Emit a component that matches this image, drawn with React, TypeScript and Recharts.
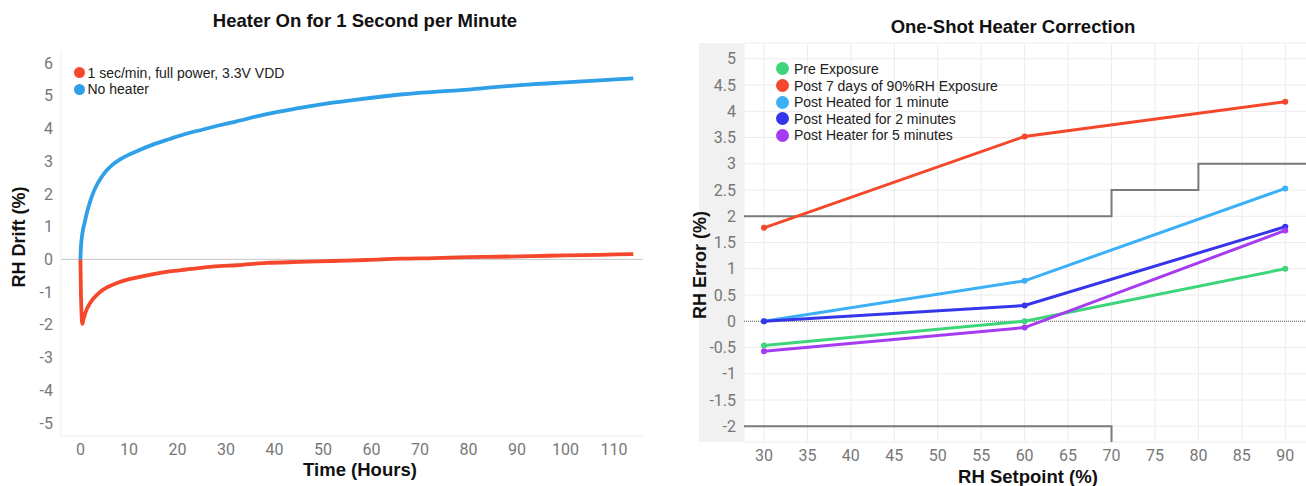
import React from 'react';
import { LineChart, Line, XAxis, YAxis, CartesianGrid, ReferenceLine } from 'recharts';

// ---------- Left chart: Heater On for 1 Second per Minute ----------
const heaterHours = [0, 0.12, 0.25, 0.4, 0.6, 0.87, 1.3, 1.9, 2.5, 3.3, 4.2, 5.3, 6.6, 8.1, 9.7, 11.5, 14.8, 18.4, 21.8, 25.3, 28.7, 32.2, 38.4, 45, 52, 59, 66, 73, 80, 86, 93, 100, 107, 114];
const heaterDrift = [0, -1.1, -1.7, -1.97, -1.85, -1.71, -1.53, -1.36, -1.23, -1.1, -0.98, -0.87, -0.78, -0.69, -0.62, -0.56, -0.46, -0.37, -0.31, -0.25, -0.21, -0.18, -0.11, -0.08, -0.05, -0.02, 0.02, 0.04, 0.07, 0.08, 0.1, 0.12, 0.14, 0.16];
const noHeaterHours = [0, 0.1, 0.3, 0.55, 0.87, 1.3, 1.9, 2.5, 3.3, 4.2, 5.3, 6.6, 8.1, 9.7, 11.5, 14.8, 18.4, 21.8, 25.3, 28.7, 32.2, 38.4, 45, 52, 59, 66, 73, 80, 86, 93, 100, 107, 114];
const noHeaterDrift = [0, 0.35, 0.68, 0.92, 1.12, 1.4, 1.72, 1.98, 2.25, 2.48, 2.7, 2.89, 3.05, 3.18, 3.3, 3.5, 3.68, 3.84, 3.97, 4.1, 4.22, 4.44, 4.62, 4.79, 4.92, 5.04, 5.12, 5.19, 5.27, 5.35, 5.41, 5.47, 5.53];
const hourTicks = [0, 10, 20, 30, 40, 50, 60, 70, 80, 90, 100, 110];
const driftTicks = [-5, -4, -3, -2, -1, 0, 1, 2, 3, 4, 5, 6];
const leftSeriesNames = ['1 sec/min, full power, 3.3V VDD', 'No heater'];
const leftColors = ['#f4472b', '#2f9fe8'];

// ---------- Right chart: One-Shot Heater Correction ----------
const setpoints = [30, 60, 90];
const preExposure = [-0.46, 0.0, 1.0];
const post7Days = [1.78, 3.52, 4.18];
const heated1Min = [0.0, 0.77, 2.53];
const heated2Min = [0.0, 0.3, 1.8];
const heated5Min = [-0.57, -0.12, 1.73];
const limitX = [27.7, 70, 80, 92.5];
const upperLimit = [2, 2.5, 3, 3];
const lowerLimit = [-2, -2.5, -3, -3];
const setpointTicks = [30, 35, 40, 45, 50, 55, 60, 65, 70, 75, 80, 85, 90];
const errorTicks = [-2, -1.5, -1, -0.5, 0, 0.5, 1, 1.5, 2, 2.5, 3, 3.5, 4, 4.5, 5];
const rightSeriesNames = ['Pre Exposure', 'Post 7 days of 90%RH Exposure', 'Post Heated for 1 minute', 'Post Heated for 2 minutes', 'Post Heater for 5 minutes'];
const rightColors = ['#3dd47a', '#f4472b', '#3bb0f6', '#3535ea', '#a53cf2'];
const rightValues = [preExposure, post7Days, heated1Min, heated2Min, heated5Min];

const zip = (xs: number[], ys: number[]) => xs.map((x, i) => ({ x, y: ys[i] }));

const tickStyle = { fill: '#777', fontSize: 16, fontFamily: 'Roboto, sans-serif' };
const titleFont = '"Liberation Sans", Arial, sans-serif';

const Title = ({ text, cx, cy }: { text: string; cx: number; cy: number }) => (
  <div style={{ position: 'absolute', left: cx, top: cy, transform: 'translate(-50%,-50%)', fontFamily: titleFont, fontWeight: 700, fontSize: 18.5, color: '#111', whiteSpace: 'nowrap' }}>{text}</div>
);
const VLabel = ({ text, cx, cy }: { text: string; cx: number; cy: number }) => (
  <div style={{ position: 'absolute', left: cx, top: cy, transform: 'translate(-50%,-50%) rotate(-90deg)', fontFamily: titleFont, fontWeight: 700, fontSize: 18, color: '#111', whiteSpace: 'nowrap' }}>{text}</div>
);
const LegendBox = ({ names, colors, left, top, r, gap }: { names: string[]; colors: string[]; left: number; top: number; r: number; gap: number }) => (
  <div style={{ position: 'absolute', left, top, fontFamily: titleFont, fontSize: 14, color: '#222' }}>
    {names.map((n, i) => (
      <div key={n} style={{ display: 'flex', alignItems: 'center', height: 16.6, whiteSpace: 'nowrap' }}>
        <span style={{ display: 'inline-block', width: 2 * r, height: 2 * r, borderRadius: r, background: colors[i], marginRight: gap }} />
        <span>{n}</span>
      </div>
    ))}
  </div>
);

export default function App() {
  return (
    <div style={{ position: 'absolute', left: 0, top: 0, width: 1306, height: 486, overflow: 'hidden', background: '#fff' }}>
      {/* Left chart */}
      <div style={{ position: 'absolute', left: 0, top: 0 }}>
        <LineChart width={660} height={486} margin={{ top: 50, right: 17, bottom: 0, left: 0 }}>
          <XAxis type="number" dataKey="x" domain={[-4, 116]} ticks={hourTicks} allowDataOverflow tickLine={false} axisLine={{ stroke: '#eee' }} height={50} tick={tickStyle} interval={0} />
          <YAxis type="number" domain={[-5.4, 6.4]} ticks={driftTicks} allowDataOverflow tickLine={false} axisLine={{ stroke: '#eee' }} width={61} tick={tickStyle} interval={0} />
          <ReferenceLine y={0} stroke="#c4c4c4" strokeWidth={1} />
          <Line data={zip(heaterHours, heaterDrift)} dataKey="y" type="monotone" stroke={leftColors[0]} strokeWidth={3.8} dot={false} isAnimationActive={false} />
          <Line data={zip(noHeaterHours, noHeaterDrift)} dataKey="y" type="monotone" stroke={leftColors[1]} strokeWidth={3.8} dot={false} isAnimationActive={false} />
        </LineChart>
      </div>
      <Title text="Heater On for 1 Second per Minute" cx={365} cy={21} />
      <VLabel text="RH Drift (%)" cx={19} cy={237} />
      <Title text="Time (Hours)" cx={360} cy={470} />
      <LegendBox names={leftSeriesNames} colors={leftColors} left={74} top={64.4} r={5.5} gap={2.5} />

      {/* Right chart */}
      <div style={{ position: 'absolute', left: 699, top: 43, width: 45, height: 399, background: '#f1f1f1' }} />
      <div style={{ position: 'absolute', left: 660, top: 0 }}>
        <LineChart width={660} height={486} margin={{ top: 43, right: 13, bottom: 0, left: 0 }}>
          <CartesianGrid stroke="#ececec" />
          <XAxis type="number" dataKey="x" domain={[27.7, 92.5]} ticks={setpointTicks} allowDataOverflow tickLine={false} axisLine={false} height={44} tick={tickStyle} interval={0} />
          <YAxis type="number" domain={[-2.3, 5.3]} ticks={errorTicks} allowDataOverflow tickLine={false} axisLine={false} width={84} tick={tickStyle} interval={0} />
          <ReferenceLine y={0} stroke="#666" strokeDasharray="1 1" strokeWidth={1} />
          <Line data={zip(limitX, upperLimit)} dataKey="y" type="stepAfter" stroke="#7a7a7a" strokeWidth={2} dot={false} isAnimationActive={false} legendType="none" />
          <Line data={zip(limitX, lowerLimit)} dataKey="y" type="stepAfter" stroke="#7a7a7a" strokeWidth={2} dot={false} isAnimationActive={false} legendType="none" />
          {rightValues.map((vals, i) => (
            <Line key={rightSeriesNames[i]} name={rightSeriesNames[i]} data={zip(setpoints, vals)} dataKey="y" type="linear" stroke={rightColors[i]} strokeWidth={3} dot={{ r: 3, fill: rightColors[i], stroke: rightColors[i], strokeWidth: 0 }} isAnimationActive={false} />
          ))}
        </LineChart>
      </div>
      <Title text="One-Shot Heater Correction" cx={1013} cy={27} />
      <VLabel text="RH Error (%)" cx={700} cy={265} />
      <Title text="RH Setpoint (%)" cx={1028} cy={477} />
      <LegendBox names={rightSeriesNames} colors={rightColors} left={775.5} top={60.7} r={6.5} gap={5.5} />
    </div>
  );
}
